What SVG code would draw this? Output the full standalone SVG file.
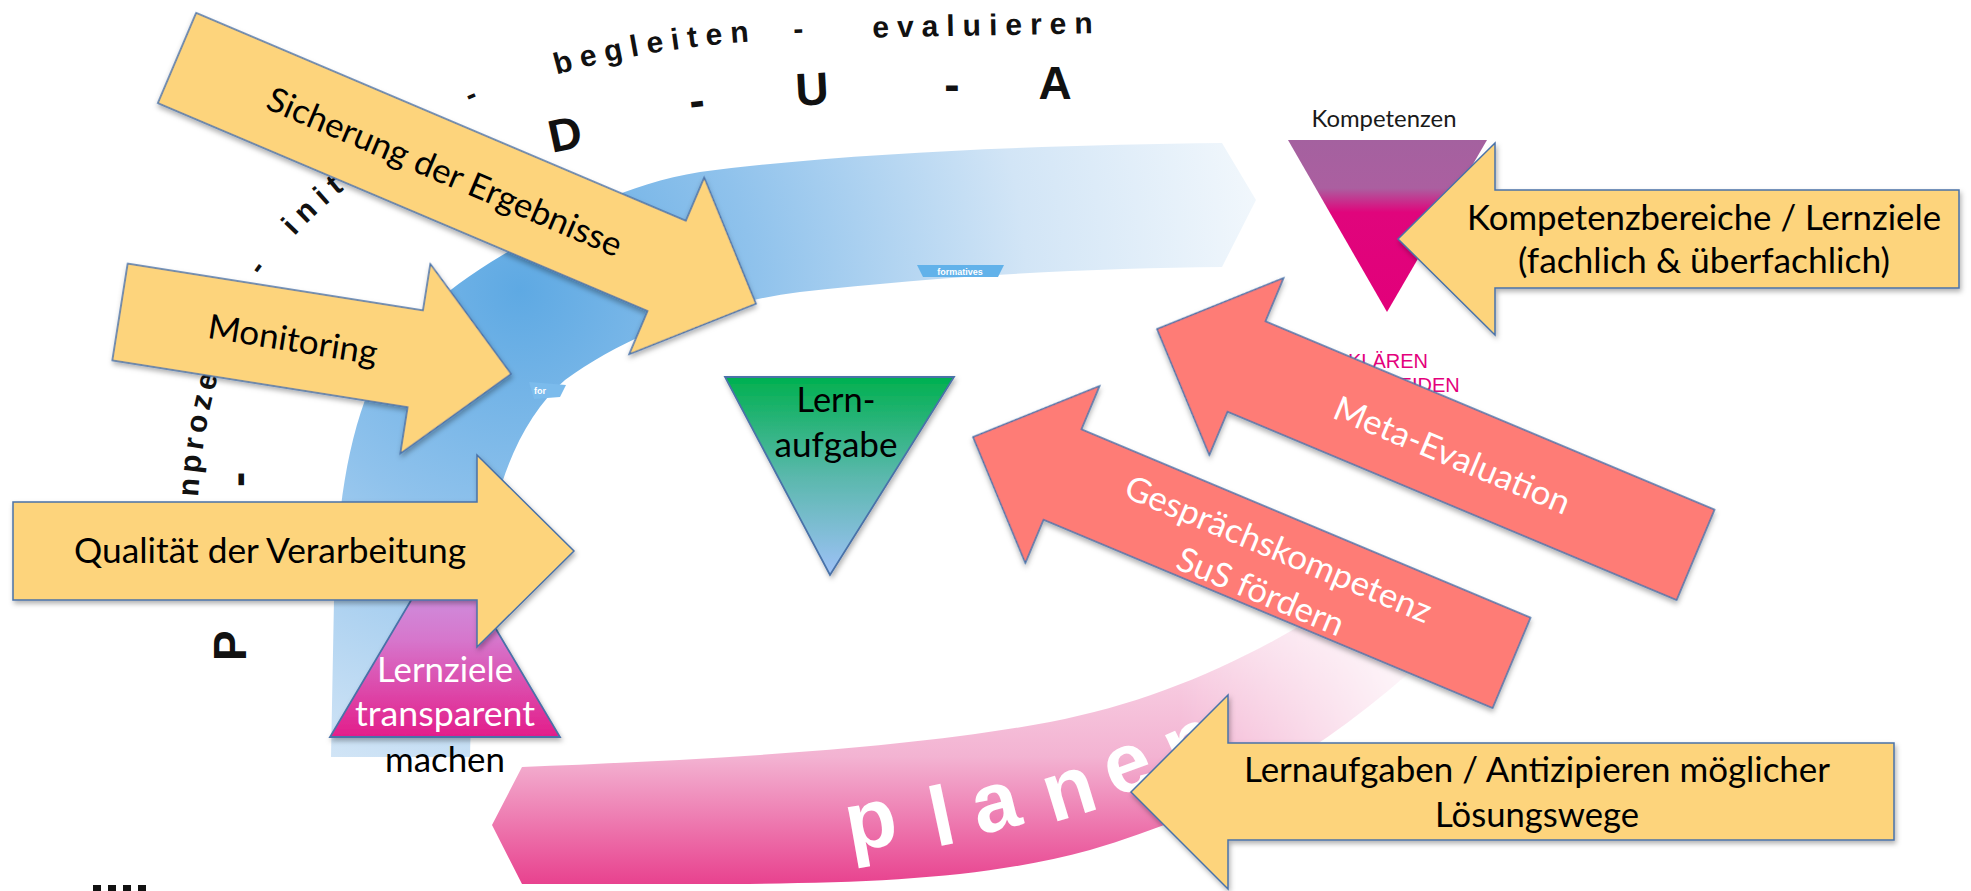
<svg xmlns="http://www.w3.org/2000/svg" width="1971" height="891" viewBox="0 0 1971 891">
<defs>
<style>
.yarrow{fill:#fdd47c;stroke:#4a72a8;stroke-width:1.5;stroke-linejoin:miter}
.sarrow{fill:#fe7c76;stroke:#4a72a8;stroke-width:1.5;stroke-linejoin:miter}
.lbl{font-family:Lato,"Open Sans","Liberation Sans",sans-serif;font-size:34px;fill:#000}
.lblw{font-family:Lato,"Open Sans","Liberation Sans",sans-serif;font-size:34px;fill:#fff}
.ring{font-family:"Liberation Sans",Arial,sans-serif;font-weight:bold;font-size:30px;letter-spacing:8px;fill:#111}
.pdua{font-family:"Liberation Sans",Arial,sans-serif;font-weight:bold;font-size:46px;fill:#111}
.klar{font-family:"Liberation Sans",Arial,sans-serif;font-size:20px;fill:#e4007c;text-anchor:middle}
.plan{font-family:"Liberation Sans",Arial,sans-serif;font-weight:bold;font-size:84px;fill:#fff}
.tri{stroke:#4a72a8;stroke-width:1.8}
</style>
<radialGradient id="blueGrad" gradientUnits="userSpaceOnUse" cx="520" cy="290" r="780">
<stop offset="0" stop-color="#5ea9e3"/>
<stop offset="0.3" stop-color="#8fc2ec"/>
<stop offset="0.65" stop-color="#d2e5f6"/>
<stop offset="1" stop-color="#f6fafd"/>
</radialGradient>
<linearGradient id="pinkGrad" gradientUnits="userSpaceOnUse" x1="0" y1="600" x2="0" y2="885">
<stop offset="0" stop-color="#fbe4ef"/>
<stop offset="0.55" stop-color="#f3b3d2"/>
<stop offset="1" stop-color="#e8418e"/>
</linearGradient>
<linearGradient id="pinkFade" gradientUnits="userSpaceOnUse" x1="1180" y1="0" x2="1460" y2="0">
<stop offset="0" stop-color="#fff"/>
<stop offset="1" stop-color="#000"/>
</linearGradient>
<mask id="pinkMask" maskUnits="userSpaceOnUse" x="0" y="0" width="1971" height="891">
<rect x="0" y="0" width="1971" height="891" fill="url(#pinkFade)"/>
</mask>
<linearGradient id="greenGrad" gradientUnits="userSpaceOnUse" x1="0" y1="377" x2="0" y2="575">
<stop offset="0" stop-color="#00b04f"/>
<stop offset="0.5" stop-color="#5ab8ac"/>
<stop offset="1" stop-color="#9ec1f7"/>
</linearGradient>
<linearGradient id="lzGrad" gradientUnits="userSpaceOnUse" x1="0" y1="543" x2="0" y2="737">
<stop offset="0" stop-color="#c6a8ef"/>
<stop offset="0.5" stop-color="#d676cc"/>
<stop offset="1" stop-color="#e31d8a"/>
</linearGradient>
<linearGradient id="kompGrad" gradientUnits="userSpaceOnUse" x1="0" y1="140" x2="0" y2="312">
<stop offset="0" stop-color="#a4619f"/>
<stop offset="0.28" stop-color="#ab5fa0"/>
<stop offset="0.42" stop-color="#e0057c"/>
<stop offset="1" stop-color="#e2007a"/>
</linearGradient>
<filter id="sh" x="-10%" y="-20%" width="120%" height="150%">
<feDropShadow dx="1.5" dy="3" stdDeviation="2.5" flood-color="#000" flood-opacity="0.3"/>
</filter>
<path id="ringOuter" d="M196,650 L198,500 C200,440 220,330 265,272 C300,222 380,150 476,103 C560,66 680,42 800,39 L1150,32"/>
</defs>

<rect x="0" y="0" width="1971" height="891" fill="#fff"/>

<g id="band-blue">
<path fill="url(#blueGrad)" d="M331,757 L334,600 C337,520 345,455 365,400 C390,340 430,300 491,262 C560,220 620,185 700,172 C850,152 1050,145 1222,143 L1256,200 L1222,267 C1100,268 950,275 800,292 C700,305 620,340 565,380 C530,410 505,460 492,520 C480,580 472,680 470,757 Z"/>
<polygon points="917,265 1004,265 998,277 923,277" fill="#62b2ea"/>
<text x="960" y="275" font-family="Liberation Sans, sans-serif" font-weight="bold" font-size="9" fill="#fff" text-anchor="middle">formatives</text>
<polygon points="529,382 566,385 560,397 534,399" fill="#7bbbec"/>
<text x="534" y="394" font-family="Liberation Sans, sans-serif" font-weight="bold" font-size="9" fill="#fff">for</text>
</g>

<g id="band-pink">
<path fill="url(#pinkGrad)" mask="url(#pinkMask)" d="M492,825 L522,767 C700,760 900,750 1050,722 C1180,697 1290,640 1400,560 L1445,640 C1340,740 1230,810 1090,850 C980,880 860,884 700,884 L522,884 Z"/>
<text class="plan" x="850 936 979 1052 1114 1178" y="852 847 835 823 798 778" rotate="-10 -12 -14 -17 -20 -24">planen</text>
</g>

<g id="ring-text">
<text class="ring" style="letter-spacing:5px"><textPath href="#ringOuter" startOffset="153">nproze</textPath></text>
<text class="ring"><textPath href="#ringOuter" startOffset="385">-</textPath></text>
<text class="ring"><textPath href="#ringOuter" startOffset="437">initi</textPath></text>
<text class="ring"><textPath href="#ringOuter" startOffset="657">-</textPath></text>
<text class="ring"><textPath href="#ringOuter" startOffset="749">begleiten</textPath></text>
<text class="ring"><textPath href="#ringOuter" startOffset="989">-</textPath></text>
<text class="ring"><textPath href="#ringOuter" startOffset="1068">evaluieren</textPath></text>
</g>

<g id="pdua" class="pdua">
<text transform="translate(246,661) rotate(-90)">P</text>
<text transform="translate(253,487) rotate(-90)">-</text>
<text text-anchor="middle" y="16" transform="translate(565,134) rotate(-12)">D</text>
<text text-anchor="middle" y="13" transform="translate(697,103) rotate(-6)">-</text>
<text text-anchor="middle" y="16" transform="translate(812,89) rotate(-3)">U</text>
<text text-anchor="middle" y="13" transform="translate(952,87)">-</text>
<text text-anchor="middle" y="16" transform="translate(1055,83)">A</text>
</g>

<g id="marks">
<rect x="93" y="885" width="8" height="6" fill="#111"/>
<rect x="108" y="885" width="8" height="6" fill="#111"/>
<rect x="123" y="885" width="8" height="6" fill="#111"/>
<rect x="138" y="885" width="8" height="6" fill="#111"/>
</g>

<g id="node-kompetenzen">
<text x="1384" y="127" font-family="Lato, sans-serif" font-size="24" fill="#1a1a1a" text-anchor="middle" textLength="145" lengthAdjust="spacingAndGlyphs">Kompetenzen</text>
<path fill="url(#kompGrad)" d="M1288,140 L1487,140 L1387,312 Z"/>
<text class="klar" x="1388" y="368">KLÄREN</text>
<text class="klar" x="1388" y="392">ENTSCHEIDEN</text>
</g>

<g id="node-lernziele">
<path class="tri" fill="url(#lzGrad)" filter="url(#sh)" d="M445,543 L560,737 L330,737 Z"/>
<text class="lblw" x="445" y="682" text-anchor="middle" textLength="136" lengthAdjust="spacingAndGlyphs">Lernziele</text>
<text class="lblw" x="445" y="726" text-anchor="middle" textLength="180" lengthAdjust="spacingAndGlyphs">transparent</text>
<text class="lbl" x="445" y="772" text-anchor="middle" textLength="120" lengthAdjust="spacingAndGlyphs">machen</text>
</g>

<g id="node-lernaufgabe">
<path class="tri" fill="url(#greenGrad)" filter="url(#sh)" d="M725,377 L954,377 L830,575 Z"/>
<text class="lbl" x="836" y="412" text-anchor="middle" textLength="79" lengthAdjust="spacingAndGlyphs">Lern-</text>
<text class="lbl" x="836" y="457" text-anchor="middle" textLength="123" lengthAdjust="spacingAndGlyphs">aufgabe</text>
</g>

<g id="connectors">
<g id="arrow-qualitaet" transform="translate(13,551)">
<path class="yarrow" filter="url(#sh)" d="M0,-49 L464,-49 L464,-96 L561,0 L464,96 L464,49 L0,49 Z"/>
<text class="lbl" x="257" y="12" text-anchor="middle" textLength="392" lengthAdjust="spacingAndGlyphs">Qualität der Verarbeitung</text>
</g>
<g id="arrow-monitoring" transform="translate(120,312) rotate(9)">
<path class="yarrow" filter="url(#sh)" d="M0,-49 L299,-49 L299,-96 L396,0 L299,96 L299,49 L0,49 Z"/>
<text class="lbl" x="175" y="12" text-anchor="middle" textLength="171" lengthAdjust="spacingAndGlyphs">Monitoring</text>
</g>
<g id="arrow-sicherung" transform="translate(177,58) rotate(23)">
<path class="yarrow" filter="url(#sh)" d="M0,-49 L532,-49 L532,-96 L629,0 L532,96 L532,49 L0,49 Z"/>
<text class="lbl" x="291" y="12" text-anchor="middle" textLength="382" lengthAdjust="spacingAndGlyphs">Sicherung der Ergebnisse</text>
</g>
<g id="arrow-kompetenzbereiche" transform="translate(1398,239)">
<path class="yarrow" filter="url(#sh)" d="M0,0 L97,-96 L97,-49 L561,-49 L561,49 L97,49 L97,96 Z"/>
<text class="lbl" x="306" y="-9" text-anchor="middle" textLength="474" lengthAdjust="spacingAndGlyphs">Kompetenzbereiche / Lernziele</text>
<text class="lbl" x="306" y="34" text-anchor="middle" textLength="372" lengthAdjust="spacingAndGlyphs">(fachlich &amp; überfachlich)</text>
</g>
<g id="arrow-lernaufgaben" transform="translate(1131,792)">
<path class="yarrow" filter="url(#sh)" d="M0,0 L97,-97 L97,-49 L763,-49 L763,48 L97,48 L97,97 Z"/>
<text class="lbl" x="406" y="-10" text-anchor="middle" textLength="586" lengthAdjust="spacingAndGlyphs">Lernaufgaben / Antizipieren möglicher</text>
<text class="lbl" x="406" y="35" text-anchor="middle" textLength="204" lengthAdjust="spacingAndGlyphs">Lösungswege</text>
</g>
<g id="arrow-meta" transform="translate(1157,329) rotate(22.75)">
<path class="sarrow" filter="url(#sh)" d="M0,0 L97,-96 L97,-49 L584,-49 L584,49 L97,49 L97,96 Z"/>
<text class="lblw" x="321" y="14" text-anchor="middle" textLength="253" lengthAdjust="spacingAndGlyphs">Meta-Evaluation</text>
</g>
<g id="arrow-gespraech" transform="translate(973,437) rotate(22.75)">
<path class="sarrow" filter="url(#sh)" d="M0,0 L97,-96 L97,-49 L584,-49 L584,49 L97,49 L97,96 Z"/>
<text class="lblw" x="325" y="-3" text-anchor="middle" textLength="329" lengthAdjust="spacingAndGlyphs">Gesprächskompetenz</text>
<text class="lblw" x="325" y="43" text-anchor="middle" textLength="178" lengthAdjust="spacingAndGlyphs">SuS fördern</text>
</g>
</g>
</svg>
